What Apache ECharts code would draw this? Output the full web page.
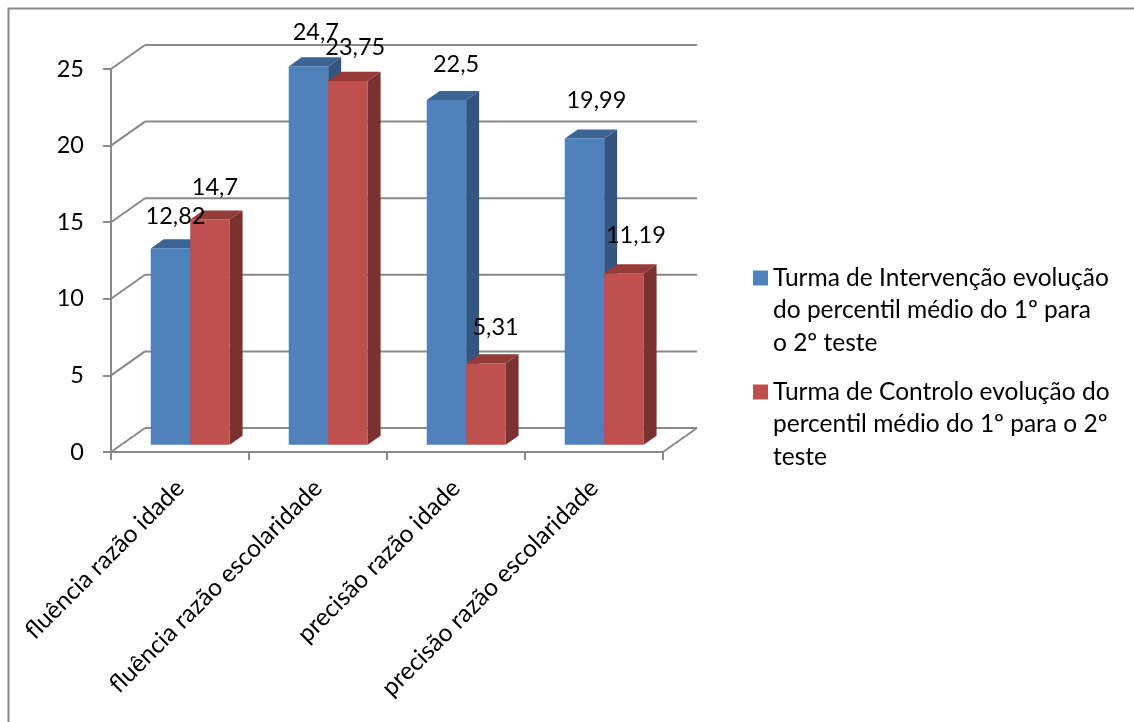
<!DOCTYPE html>
<html>
<head>
<meta charset="utf-8">
<script src="https://cdn.jsdelivr.net/npm/echarts@6/dist/echarts.min.js"></script>
<style>
  html, body { margin: 0; padding: 0; background: #ffffff; }
  #chart { width: 1134px; height: 722px; }
</style>
</head>
<body>
<div id="chart"></div>
<script>
// Categories, series values and tick values
const categories = [
  'fluência razão idade',
  'fluência razão escolaridade',
  'precisão razão idade',
  'precisão razão escolaridade'
];
const seriesNames = [
  'Turma de Intervenção evolução do percentil médio do 1º para o 2º teste',
  'Turma de Controlo evolução do percentil médio do 1º para o 2º teste'
];
const legendLines = [
  ['Turma de Intervenção evolução', 'do percentil médio do 1º para', 'o 2º teste'],
  ['Turma de Controlo evolução do', 'percentil médio do 1º para o 2º', 'teste']
];
const intervencao = [12.82, 24.7, 22.5, 19.99];
const controlo = [14.7, 23.75, 5.31, 11.19];
const yTicks = [0, 5, 10, 15, 20, 25];

// Pseudo-3D geometry: the back wall is shifted by (DX, DY) from the front plane
const DX = 34, DY = -24;
const D0 = 0.30, D1 = 0.68;      // bar depth span (fraction of wall depth)
const BAR_FRAC = 0.286;          // width of one bar relative to a category band
const FONT = 'Lato';
const FS = 23.5;
const LINE = '#898989';

const palettes = [
  { front: '#4f81bd', top: '#3c6596', side: '#34557f' },
  { front: '#c0504d', top: '#953c3a', side: '#7c3131' }
];

function fmt(v) { return String(v).replace('.', ','); }

function barRenderer(pos) {
  const pal = palettes[pos];
  return function (params, api) {
    const cat = api.value(0), val = api.value(1);
    const topPt = api.coord([cat, val]);
    const basePt = api.coord([cat, 0]);
    const w = api.size([1, 0])[0] * BAR_FRAC;
    const xl = topPt[0] + (pos - 1) * w + DX * D0;
    const xr = xl + w;
    const yt = topPt[1] + DY * D0;
    const yb = basePt[1] + DY * D0;
    const sx = DX * (D1 - D0), sy = DY * (D1 - D0);
    // value labels sit above the bar top, drifting right with perspective
    const lx = (xl + xr) / 2 + 5 + 2.3 * cat;
    const ly = yt - 32 - 2 * cat;
    return {
      type: 'group',
      children: [
        { type: 'polygon', z2: pos, shape: { points: [[xl, yb], [xr, yb], [xr, yt], [xl, yt]] }, style: { fill: pal.front } },
        { type: 'polygon', z2: pos, shape: { points: [[xl, yt], [xr, yt], [xr + sx, yt + sy], [xl + sx, yt + sy]] }, style: { fill: pal.top } },
        { type: 'polygon', z2: pos, shape: { points: [[xr, yt], [xr + sx, yt + sy], [xr + sx, yb + sy], [xr, yb]] }, style: { fill: pal.side } },
        { type: 'text', z2: 20, style: {
            x: lx, y: ly, text: fmt(val),
            fill: '#000', font: FS + 'px ' + FONT, align: 'center', verticalAlign: 'middle'
        } }
      ]
    };
  };
}

// Back wall gridlines, their connectors to the front axis, and the floor's right edge
function wallRenderer(params, api) {
  const v = api.value(0);
  const cs = params.coordSys;
  const y = api.coord([0, v])[1];
  const left = cs.x, right = cs.x + cs.width;
  const st = { stroke: LINE, lineWidth: 2 };
  const kids = [
    { type: 'line', shape: { x1: left + DX, y1: y + DY, x2: right + DX, y2: y + DY }, style: st },
    { type: 'line', shape: { x1: left, y1: y, x2: left + DX, y2: y + DY }, style: st }
  ];
  if (v === 0) {
    kids.push({ type: 'line', shape: { x1: right, y1: y, x2: right + DX, y2: y + DY }, style: st });
  }
  return { type: 'group', children: kids };
}

// One legend block per series; two leading blank lines keep the marker level with the first text line
function legendFor(i, iconCenterY) {
  const L = 32.5;
  return {
    data: [seriesNames[i]],
    left: 753,
    top: iconCenterY - 2.5 * L,
    orient: 'vertical',
    padding: 0,
    icon: 'rect',
    itemWidth: 15,
    itemHeight: 15,
    selectedMode: false,
    formatter: () => '\n\n' + legendLines[i].join('\n'),
    textStyle: { fontFamily: FONT, fontSize: FS + 1, lineHeight: L, color: '#000' }
  };
}

const chart = echarts.init(document.getElementById('chart'), null, { renderer: 'canvas' });
chart.setOption({
  animation: false,
  backgroundColor: '#ffffff',
  grid: { left: 111, top: 69, width: 552, height: 383, containLabel: false },
  xAxis: {
    type: 'category',
    data: categories,
    boundaryGap: true,
    axisLine: { show: true, lineStyle: { color: LINE, width: 2 } },
    axisTick: { show: true, length: 8, lineStyle: { color: LINE, width: 2 } },
    axisLabel: { interval: 0, rotate: 45, margin: 32, color: '#000', fontFamily: FONT, fontSize: FS + 1 }
  },
  yAxis: {
    type: 'value',
    min: 0, max: 25, interval: 5,
    axisLine: { show: true, lineStyle: { color: LINE, width: 2 } },
    axisTick: { show: true, length: 8, lineStyle: { color: LINE, width: 2 } },
    splitLine: { show: false },
    axisLabel: { margin: 27, color: '#000', fontFamily: FONT, fontSize: FS,
                 formatter: (v) => String(v) }
  },
  legend: [legendFor(0, 278), legendFor(1, 392)],
  graphic: [{
    type: 'rect', left: 6, top: 6, z: 100, silent: true,
    shape: { width: 1200, height: 800 },
    style: { fill: 'none', stroke: LINE, lineWidth: 2 }
  }],
  series: [
    {
      type: 'custom', name: 'wall', z: 1, silent: true,
      renderItem: wallRenderer,
      data: yTicks.map((v) => [v]),
      encode: { y: 0 }
    },
    {
      type: 'custom', name: seriesNames[0], z: 2,
      itemStyle: { color: palettes[0].front },
      renderItem: barRenderer(0),
      data: intervencao.map((v, i) => [i, v]),
      encode: { x: 0, y: 1 }
    },
    {
      type: 'custom', name: seriesNames[1], z: 2,
      itemStyle: { color: palettes[1].front },
      renderItem: barRenderer(1),
      data: controlo.map((v, i) => [i, v]),
      encode: { x: 0, y: 1 }
    }
  ]
});
</script>
</body>
</html>
